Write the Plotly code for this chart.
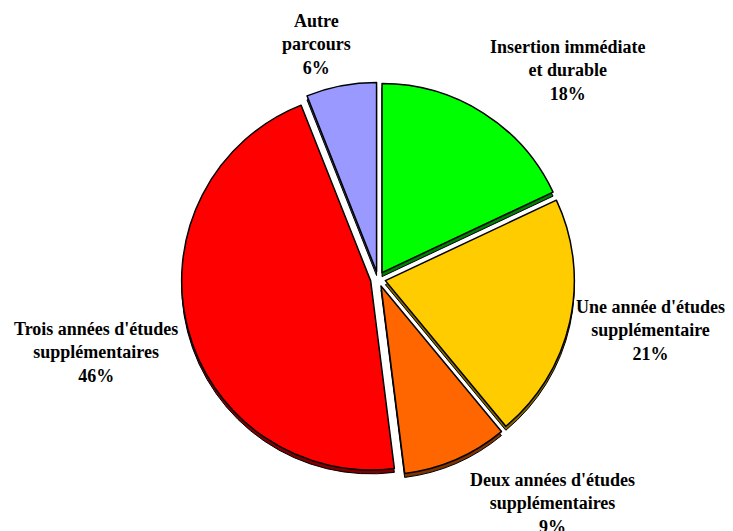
import plotly.graph_objects as go

# parcours des diplômés, en %
categories = [
    "Insertion immédiate<br>et durable",
    "Une année d'études<br>supplémentaire",
    "Deux années d'études<br>supplémentaires",
    "Trois années d'études<br>supplémentaires",
    "Autre<br>parcours",
]
values = [18, 21, 9, 46, 6]
colors = ["#00FF00", "#FFCC00", "#FF6600", "#FF0000", "#9999FF"]
shadow_colors = ["#007F00", "#7F6600", "#7F3300", "#7F0000", "#4C4C7F"]

# position des étiquettes (fraction de la figure)
label_x = [0.763, 0.877, 0.743, 0.120, 0.421]
label_y = [0.883, 0.392, 0.066, 0.352, 0.932]

serif = "Liberation Serif"
pull = 0.04
dom_x = [0.2366, 0.7729]
dom_y = [0.1194, 0.8599]
shift = 4 / 531  # ombre portée, décalée vers le bas

fig = go.Figure()

# ombre (effet 3D)
fig.add_trace(go.Pie(
    labels=categories,
    values=values,
    sort=False,
    direction="clockwise",
    rotation=0,
    pull=pull,
    marker=dict(colors=shadow_colors, line=dict(color="#000000", width=1)),
    textinfo="none",
    hoverinfo="skip",
    showlegend=False,
    domain=dict(x=dom_x, y=[dom_y[0] - shift, dom_y[1] - shift]),
))

fig.add_trace(go.Pie(
    labels=categories,
    values=values,
    sort=False,
    direction="clockwise",
    rotation=0,
    pull=pull,
    marker=dict(colors=colors, line=dict(color="#000000", width=1.5)),
    textinfo="none",
    hovertemplate="%{label}<br>%{percent:.0%}<extra></extra>",
    showlegend=False,
    domain=dict(x=dom_x, y=dom_y),
))

total = sum(values)
for cat, val, lx, ly in zip(categories, values, label_x, label_y):
    fig.add_annotation(
        text=f"<b>{cat}<br>{round(100 * val / total)}%</b>",
        x=lx, y=ly, xref="paper", yref="paper",
        xanchor="center", yanchor="middle", align="center",
        showarrow=False,
        font=dict(family=serif, size=18, color="#000000"),
    )

fig.update_layout(
    width=733,
    height=531,
    margin=dict(l=0, r=0, t=0, b=0),
    paper_bgcolor="white",
    plot_bgcolor="white",
    showlegend=False,
)

fig.write_html("out.html")
